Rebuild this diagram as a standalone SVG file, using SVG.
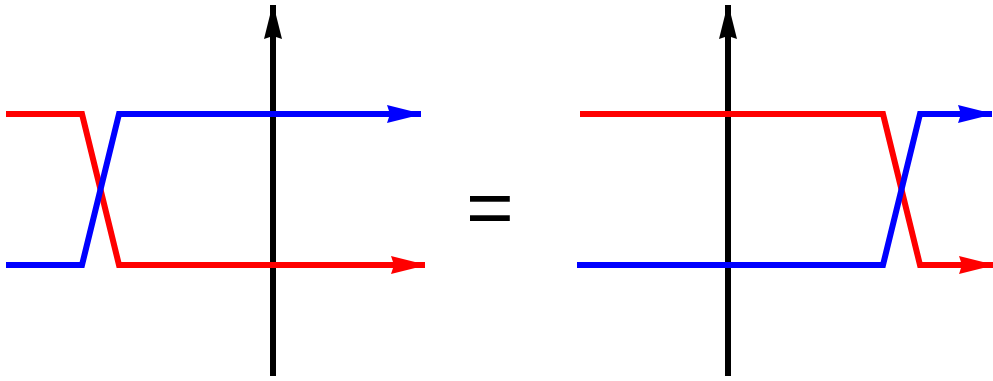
<svg xmlns="http://www.w3.org/2000/svg" width="993" height="381" viewBox="0 0 993 381">
<style>
.line{fill:none;stroke-width:6;stroke-linejoin:miter;stroke-miterlimit:10}
.red{stroke:#ff0000}
.blue{stroke:#0000ff}
.axis{stroke:#000;stroke-width:6;fill:none}
.eq{font-family:"Liberation Sans",Arial,sans-serif;font-size:78px;fill:#000}
</style>
<defs>
<marker id="ar" viewBox="0 0 34 18" refX="34" refY="9" markerWidth="34" markerHeight="18" markerUnits="userSpaceOnUse" orient="auto">
<path d="M0,0 L26,6.5 L34,9 L26,11.5 L0,18 L3,9 Z" fill="#ff0000"/>
</marker>
<marker id="ab" viewBox="0 0 34 18" refX="34" refY="9" markerWidth="34" markerHeight="18" markerUnits="userSpaceOnUse" orient="auto">
<path d="M0,0 L26,6.5 L34,9 L26,11.5 L0,18 L3,9 Z" fill="#0000ff"/>
</marker>
<marker id="ak" viewBox="0 0 34 18" refX="34" refY="9" markerWidth="34" markerHeight="18" markerUnits="userSpaceOnUse" orient="auto">
<path d="M0,0 L26,6.5 L34,9 L26,11.5 L0,18 L3,9 Z" fill="#000"/>
</marker>
</defs>
<g id="axis-left"><path class="axis" d="M273,376 L273,5" marker-end="url(#ak)"/></g>
<g id="axis-right"><path class="axis" d="M728,376 L728,5" marker-end="url(#ak)"/></g>
<g id="connectors">
<path class="line red" d="M6,114 L82,114 L119,265 L425,265" marker-end="url(#ar)"/>
<path class="line blue" d="M6,265 L82,265 L119,114 L421,114" marker-end="url(#ab)"/>
<path class="line red" d="M580,114 L883,114 L920,265 L993,265" marker-end="url(#ar)"/>
<path class="line blue" d="M577,265 L883,265 L920,114 L992,114" marker-end="url(#ab)"/>
</g>
<g id="equals"><text class="eq" x="490" y="234" text-anchor="middle" transform="translate(490 0) scale(1.05 1) translate(-490 0)">=</text></g>
</svg>
